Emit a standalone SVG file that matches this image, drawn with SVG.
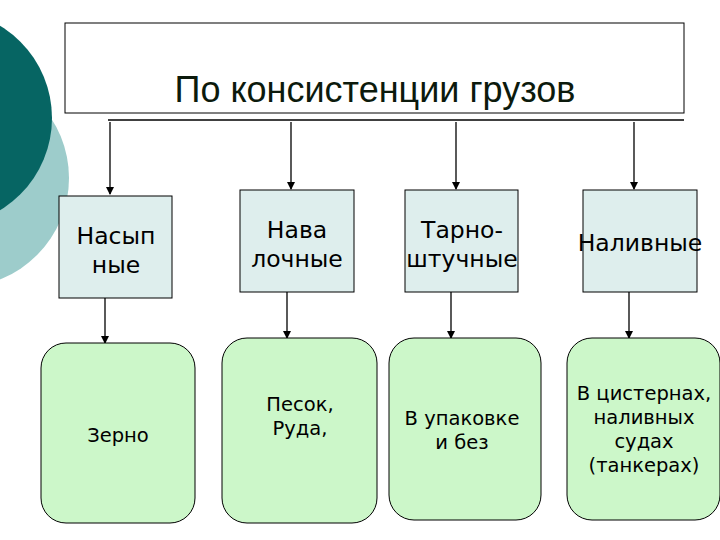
<svg xmlns="http://www.w3.org/2000/svg" width="720" height="540" viewBox="0 0 720 540">
<style>
text{font-family:"DejaVu Sans",Verdana,sans-serif;fill:#000;text-anchor:middle}
.t{font-size:23.5px}
.s{font-size:19.5px}
.b{fill:#deeeed;stroke:#000;stroke-width:1}
.g{fill:#ccf7c9;stroke:#000;stroke-width:1}
.c line{stroke:#000;stroke-width:1.3;marker-end:url(#a)}
</style>
<defs><marker id="a" markerWidth="8" markerHeight="8" refX="7" refY="4" orient="auto" markerUnits="userSpaceOnUse"><path d="M0,0 L8,4 L0,8 Z" fill="#000"/></marker></defs>
<rect width="720" height="540" fill="#fff"/>
<circle cx="-40" cy="178" r="109" fill="#9dcccb"/>
<circle cx="-56" cy="118" r="108" fill="#066563"/>
<g id="title"><rect x="65" y="23" width="619" height="90" fill="#fff" stroke="#000"/>
<text x="375" y="102" style="font-size:36px;font-family:'Liberation Sans',Arial,sans-serif;fill:#0c1a0c">По консистенции грузов</text></g>
<g class="c">
<line x1="108" y1="120" x2="684" y2="120" style="marker-end:none"/>
<line x1="110" y1="122" x2="110" y2="194"/>
<line x1="291" y1="122" x2="291" y2="189"/>
<line x1="456" y1="122" x2="456" y2="189"/>
<line x1="634" y1="122" x2="634" y2="189"/>
<line x1="105" y1="298" x2="105" y2="343"/>
<line x1="287" y1="292" x2="287" y2="338"/>
<line x1="451" y1="292" x2="451" y2="338"/>
<line x1="629" y1="292" x2="629" y2="338"/>
</g>
<g id="n1"><rect class="b" x="59" y="196" width="113" height="102"/><text class="t" x="116" y="244">Насып</text><text class="t" x="116" y="273">ные</text></g>
<g id="n2"><rect class="b" x="240" y="190" width="114" height="102"/><text class="t" x="297" y="238">Нава</text><text class="t" x="297" y="267">лочные</text></g>
<g id="n3"><rect class="b" x="405" y="190" width="113" height="102"/><text class="t" x="462" y="238">Тарно-</text><text class="t" x="462" y="267">штучные</text></g>
<g id="n4"><rect class="b" x="583" y="190" width="114" height="102"/><text class="t" x="640" y="251">Наливные</text></g>
<g id="m1"><rect class="g" x="41" y="343" width="154" height="180" rx="25"/><text class="s" x="118" y="442">Зерно</text></g>
<g id="m2"><rect class="g" x="222" y="338" width="155" height="185" rx="25"/><text class="s" x="300" y="411">Песок,</text><text class="s" x="300" y="435">Руда,</text></g>
<g id="m3"><rect class="g" x="389" y="338" width="152" height="182" rx="25"/><text class="s" x="462" y="425">В упаковке</text><text class="s" x="462" y="449">и без</text></g>
<g id="m4"><rect class="g" x="567" y="338" width="153" height="182" rx="25"/><text class="s" x="644" y="400">В цистернах,</text><text class="s" x="644" y="424">наливных</text><text class="s" x="644" y="448">судах</text><text class="s" x="644" y="472">(танкерах)</text></g>
</svg>
